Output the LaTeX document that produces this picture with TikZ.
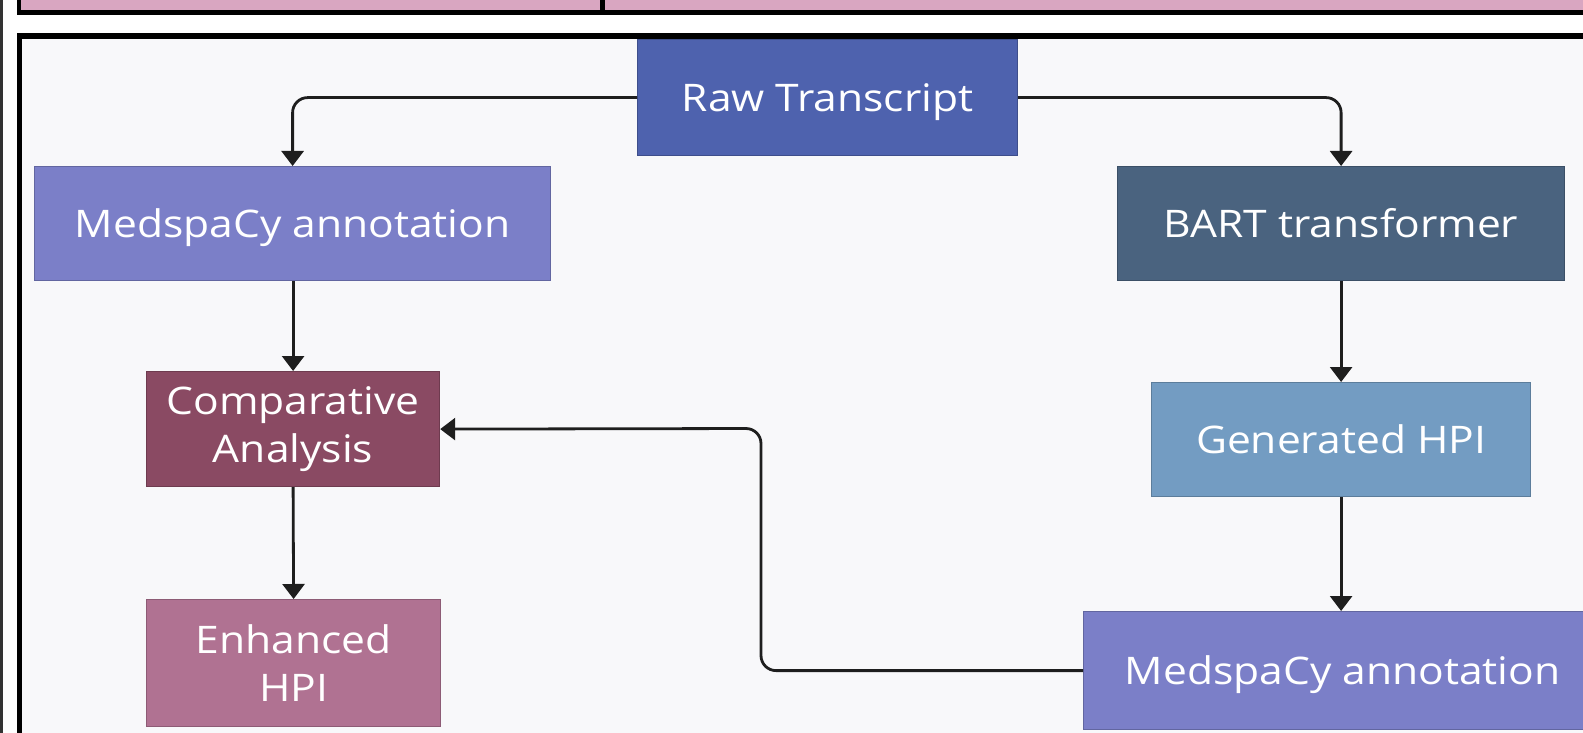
\documentclass[tikz,border=0pt]{standalone}
\usepackage{fontspec}
\setmainfont{Open Sans}[FakeStretch=1.12]
\usetikzlibrary{arrows.meta}
\definecolor{pinkstrip}{HTML}{D9A6C1}
\definecolor{panelbg}{HTML}{F8F8FA}
\definecolor{rawc}{HTML}{4E62AE}
\definecolor{medc}{HTML}{7B7FC8}
\definecolor{bartc}{HTML}{4A637F}
\definecolor{compc}{HTML}{8A4A63}
\definecolor{genc}{HTML}{739CC2}
\definecolor{enhc}{HTML}{B07292}
\definecolor{linec}{HTML}{1E1E1E}
\tikzset{
  box/.style={rectangle, anchor=north west, inner sep=0pt, text=white,
    font=\fontsize{38}{48}\selectfont, align=center, line width=1.2pt},
  oneline/.style={text height=27pt, text depth=0pt},
  arr/.style={draw=linec, line width=2.8pt, rounded corners=15pt,
    -{Triangle[length=15pt,width=22pt]}},
}
\begin{document}
\begin{tikzpicture}[x=1pt,y=-1pt]
\useasboundingbox (0,0) rectangle (1583,733);
\fill[white] (0,0) rectangle (1583,733);
% top strip
\fill[pinkstrip] (19,0) rectangle (1583,10);
\fill[black] (17,10) rectangle (1583,15);
\fill[black] (17,0) rectangle (21,15);
\fill[black] (600,0) rectangle (605,15);
% left thin edge
\fill[black!80] (0,0) rectangle (2.5,733);
% main panel
\fill[panelbg] (19,36) rectangle (1583,733);
\fill[black] (17,33.5) rectangle (1583,39);
\fill[black] (17,33.5) rectangle (22,733);
% nodes
\node[box, oneline, fill=rawc, draw=rawc!80!black, minimum width=380pt, minimum height=116pt] (raw) at (637,39) {Raw Transcript};
\node[box, oneline, fill=medc, draw=medc!80!black, minimum width=516pt, minimum height=114pt] (medL) at (34,166) {MedspaCy annotation};
\node[box, oneline, fill=bartc, draw=bartc!80!black, minimum width=447pt, minimum height=114pt] (bart) at (1117,166) {BART transformer};
\node[box, fill=compc, draw=compc!80!black, minimum width=293pt, minimum height=115pt] (comp) at (146,371) {Comparative\\Analysis};
\node[box, oneline, fill=genc, draw=genc!80!black, minimum width=379pt, minimum height=114pt] (gen) at (1151,382) {Generated HPI};
\node[box, fill=enhc, draw=enhc!80!black, minimum width=294pt, minimum height=127pt] (enh) at (146,599) {Enhanced\\HPI};
\node[box, oneline, fill=medc, draw=medc!80!black, minimum width=518pt, minimum height=118pt] (medR) at (1083,611) {MedspaCy annotation};
\coordinate (elbow) at (761,428.5);
% connectors
\draw[arr] (raw.west) -| (medL.north);
\draw[arr] (raw.east) -| (bart.north);
\draw[arr] (medL.south -| comp.north) -- (comp.north);
\draw[arr] (comp.south) -- (enh.north);
\draw[arr] (bart.south) -- (gen.north);
\draw[arr] (gen.south) -- (gen.south |- medR.north);
\draw[arr] (medR.west) -| (elbow) -- (comp.east);
\end{tikzpicture}
\end{document}
